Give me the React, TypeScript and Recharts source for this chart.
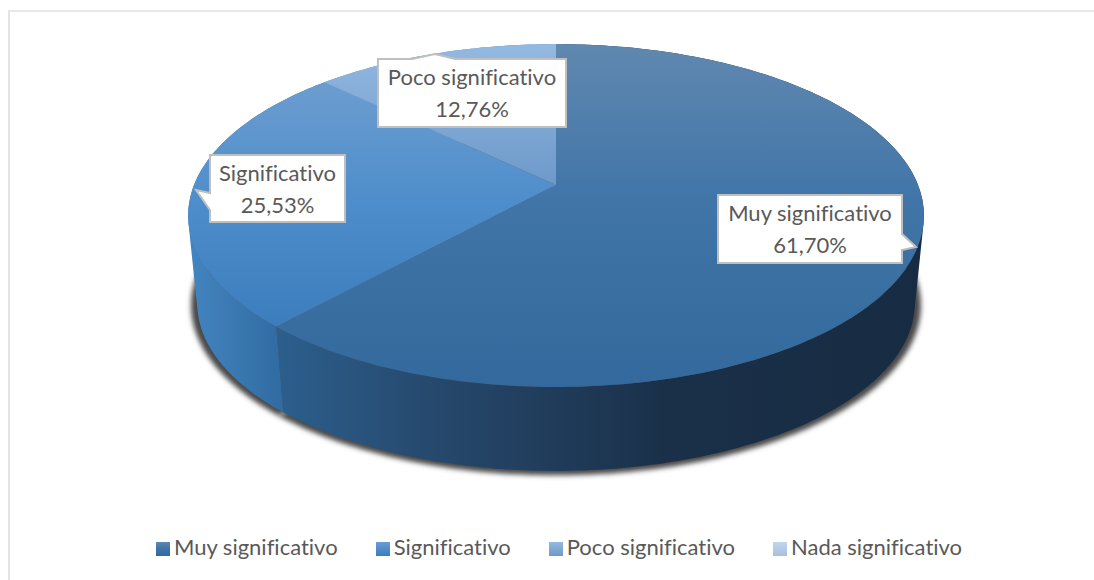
import { Legend, Pie, PieChart } from "recharts";

const categories = [
    "Muy significativo",
    "Significativo",
    "Poco significativo",
    "Nada significativo",
];
const percentages = [61.7, 25.53, 12.76, 0];
const topFills = ["url(#topMuy)", "url(#topSig)", "url(#topPoco)", "url(#topNada)"];
const wallFills = ["url(#wallMuy)", "url(#wallSig)", "url(#wallPoco)", "url(#wallPoco)"];

// callout boxes: [x, y, width, height], pointer tip and pointer base
const callouts = [
    { box: [718, 195, 184, 68], tip: [916, 247], base: [[902, 234], [902, 250]] },
    { box: [210, 155, 135, 67], tip: [196, 190], base: [[210, 193], [210, 210]] },
    { box: [378, 59, 188, 68], tip: [435, 54], base: [[412, 59], [455, 59]] },
];

const tableData = categories.map((name, i) => ({
    name,
    value: percentages[i],
    fill: topFills[i],
}));

const FONT = "Lato, sans-serif";
const TEXT = "#595959";

// perspective of the tilted disc
const TILT = 0.178;
const SQUASH = 166 / 362;
const DEPTH = 89;
const LOWER_SCALE = 0.975;

const project = (
    cx: number,
    cy: number,
    r: number,
    deg: number,
    scale = 1,
    dy = 0
) => {
    const a = (deg * Math.PI) / 180;
    const w = 1 + TILT * Math.sin(a);
    return [
        cx + (scale * r * Math.cos(a)) / w,
        cy + dy - (scale * r * SQUASH * Math.sin(a)) / w,
    ];
};

const arcPoints = (props: any, scale = 1, dy = 0) => {
    const { cx, cy, outerRadius, startAngle, endAngle } = props;
    const steps = Math.max(1, Math.ceil(Math.abs(startAngle - endAngle)));
    const pts: number[][] = [];
    for (let i = 0; i <= steps; i++) {
        const deg = startAngle + ((endAngle - startAngle) * i) / steps;
        pts.push(project(cx, cy, outerRadius, deg, scale, dy));
    }
    return pts;
};

const toPath = (pts: number[][]) =>
    "M" + pts.map((p) => `${p[0].toFixed(1)},${p[1].toFixed(1)}`).join("L") + "Z";

const TopShape = (props: any) => (
    <path
        d={toPath([[props.cx, props.cy], ...arcPoints(props)])}
        fill={props.fill}
        stroke="none"
    />
);

// one quad per degree so the outline of the wall stays a real extrusion
const WallShape = (props: any) => {
    const top = arcPoints(props);
    const low = arcPoints(props, LOWER_SCALE, DEPTH);
    let d = "";
    for (let i = 0; i < top.length - 1; i++) {
        const quad = [top[i], top[i + 1], low[i + 1], low[i]];
        const area = quad.reduce((sum, p, k) => {
            const q = quad[(k + 1) % 4];
            return sum + p[0] * q[1] - q[0] * p[1];
        }, 0);
        d += toPath(area > 0 ? quad : [...quad].reverse());
    }
    return (
        <path
            d={d}
            fill={wallFills[categories.indexOf(props.name)]}
            stroke="none"
        />
    );
};

const ShadowShape = (props: any) => {
    const low = arcPoints(props, 0.992, DEPTH + 1);
    return (
        <path
            d={toPath([[props.cx, props.cy + DEPTH], ...low])}
            fill="#4a4a4a"
            stroke="none"
            filter="url(#pieShadow)"
        />
    );
};

const renderCallout = (props: any) => {
    const i = categories.indexOf(props.name);
    const c = callouts[i];
    if (!c) return null;
    const [x, y, w, h] = c.box;
    const pts = [
        [x, y],
        [x + w, y],
        [x + w, y + h],
        [x, y + h],
    ];
    // splice the pointer into the side that its base lies on
    const [b0, b1] = c.base;
    let outline: number[][];
    if (b0[1] === y && b1[1] === y) {
        outline = [pts[0], b0, c.tip, b1, pts[1], pts[2], pts[3]];
    } else if (b0[0] === x + w) {
        outline = [pts[0], pts[1], b0, c.tip, b1, pts[2], pts[3]];
    } else {
        outline = [pts[0], pts[1], pts[2], pts[3], b1, c.tip, b0];
    }
    const label = percentages[i].toFixed(2).replace(".", ",") + "%";
    const textStyle = { fontVariantLigatures: "none" } as const;
    return (
        <g key={props.name}>
            <path d={toPath(outline)} fill="#fff" stroke="#bfbfbf" strokeWidth={2} />
            <text
                x={x + w / 2}
                y={y + 26}
                textAnchor="middle"
                fontFamily={FONT}
                fontSize={22}
                fill={TEXT}
                style={textStyle}
            >
                {props.name}
            </text>
            <text
                x={x + w / 2}
                y={y + 58}
                textAnchor="middle"
                fontFamily={FONT}
                fontSize={22}
                fill={TEXT}
                style={textStyle}
            >
                {label}
            </text>
        </g>
    );
};

const App = () => {
    const pieProps = {
        data: tableData,
        dataKey: "value",
        nameKey: "name",
        cx: 556,
        cy: 185,
        outerRadius: 362,
        innerRadius: 0,
        startAngle: 90,
        endAngle: -270,
        stroke: "none",
        isAnimationActive: false,
    };
    return (
        <div style={{ position: "absolute", left: 0, top: 0, width: 1094, height: 580, background: "#fff", overflow: "hidden" }}>
            <div
                style={{
                    position: "absolute",
                    left: 8,
                    top: 10,
                    width: 1086,
                    height: 570,
                    boxSizing: "border-box",
                    borderLeft: "2px solid #e4e4e4",
                    borderTop: "2px solid #e8e8e8",
                }}
            />
            <PieChart
                width={1094}
                height={580}
                margin={{ top: 0, right: 0, bottom: 0, left: 0 }}
                style={{ position: "absolute", left: 0, top: 0 }}
            >
                <defs>
                    <filter id="pieShadow" x="-5%" y="-5%" width="110%" height="110%">
                        <feGaussianBlur stdDeviation={2.4} />
                    </filter>
                    <linearGradient id="topMuy" x1="0" y1="0" x2="0" y2="1">
                        <stop offset="0%" stopColor="#6088b0" />
                        <stop offset="45%" stopColor="#4175a8" />
                        <stop offset="100%" stopColor="#33699c" />
                    </linearGradient>
                    <linearGradient id="topSig" x1="0" y1="0" x2="0" y2="1">
                        <stop offset="0%" stopColor="#6c9dd0" />
                        <stop offset="50%" stopColor="#4d8dcb" />
                        <stop offset="100%" stopColor="#3c7dbd" />
                    </linearGradient>
                    <linearGradient id="topPoco" x1="0" y1="0" x2="0" y2="1">
                        <stop offset="0%" stopColor="#94b9e1" />
                        <stop offset="100%" stopColor="#6d99c9" />
                    </linearGradient>
                    <linearGradient id="topNada" x1="0" y1="0" x2="0" y2="1">
                        <stop offset="0%" stopColor="#c2d4ec" />
                        <stop offset="100%" stopColor="#a9c0de" />
                    </linearGradient>
                    <linearGradient id="wallMuy" x1="0" y1="0" x2="1" y2="0">
                        <stop offset="0%" stopColor="#2c5f8d" />
                        <stop offset="25%" stopColor="#26486c" />
                        <stop offset="60%" stopColor="#1a3049" />
                        <stop offset="100%" stopColor="#172c42" />
                    </linearGradient>
                    <linearGradient id="wallSig" x1="0" y1="0" x2="1" y2="0">
                        <stop offset="0%" stopColor="#4485c0" />
                        <stop offset="70%" stopColor="#2f6aa0" />
                        <stop offset="100%" stopColor="#2f6aa0" />
                    </linearGradient>
                    <linearGradient id="wallPoco" x1="0" y1="0" x2="1" y2="0">
                        <stop offset="0%" stopColor="#6d99c9" />
                        <stop offset="100%" stopColor="#5585b8" />
                    </linearGradient>
                </defs>
                <Pie {...pieProps} legendType="none" shape={ShadowShape} />
                <Pie {...pieProps} legendType="none" shape={WallShape} />
                <Pie
                    {...pieProps}
                    legendType="square"
                    shape={TopShape}
                    label={renderCallout}
                    labelLine={false}
                />
                <Legend
                    verticalAlign="bottom"
                    align="center"
                    iconSize={14}
                    itemSorter={null}
                    wrapperStyle={{ top: 533, left: 31, fontFamily: FONT, fontSize: 22, fontVariantLigatures: "none" }}
                    formatter={(value: string) => (
                        <span style={{ color: TEXT, marginRight: 28 }}>{value}</span>
                    )}
                />
            </PieChart>
        </div>
    );
};

export default App;
